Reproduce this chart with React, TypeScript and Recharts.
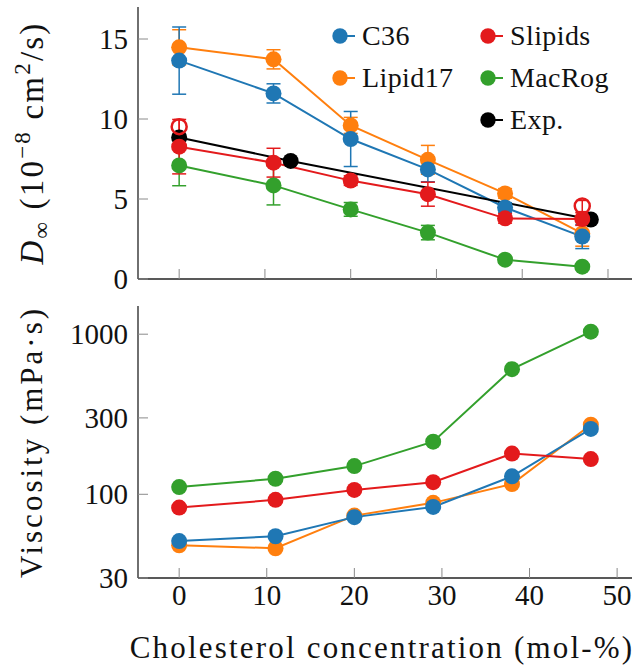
import React from 'react'
import { LineChart, Line, XAxis, YAxis, ErrorBar, Legend, Label } from 'recharts'

// cholesterol concentration (mol-%)
const conc = [0, 11, 20, 29, 38, 47]
const expConc = [0, 13, 48]
const altConc = [0, 47]

// diffusion coefficient D_inf (1e-8 cm^2/s)
const c36D = [13.65, 11.6, 8.75, 6.85, 4.47, 2.65]
const c36DErr = [2.1, 0.6, 1.72, 0.77, 0.3, 0.75]
const lipid17D = [14.48, 13.73, 9.6, 7.45, 5.35, 2.85]
const lipid17DErr = [1.1, 0.6, 0.5, 0.9, 0.3, 0.8]
const slipidsD = [8.27, 7.27, 6.15, 5.3, 3.79, 3.75]
const slipidsDErr = [1.7, 0.9, 0.3, 0.75, 0.3, 0.4]
const macRogD = [7.1, 5.85, 4.35, 2.9, 1.21, 0.77]
const macRogDErr = [1.27, 1.22, 0.43, 0.45, 0.2, 0.15]
const slipidsAltD = [9.52, 4.56]
const slipidsAltDErr = [0.45, 0.35]
const expD = [8.85, 7.38, 3.72]

// viscosity (mPa s)
const c36V = [51, 54.7, 72, 83.4, 129.5, 256]
const lipid17V = [48, 46, 73.6, 88.4, 116, 272]
const slipidsV = [82.6, 92.3, 106.5, 119, 179.5, 166]
const macRogV = [111, 125, 150, 213, 605, 1037]

const xTicks = [0, 10, 20, 30, 40, 50]
const dTicks = [0, 5, 10, 15]
const vTicks = [30, 100, 300, 1000]

const BLUE = '#1f77b4'
const ORANGE = '#ff7f0e'
const RED = '#e31a1c'
const GREEN = '#33a02c'
const BLACK = '#000000'

const FONT = '"Liberation Serif", "DejaVu Serif", serif'
const txt = { fontFamily: FONT }
const TICK = 10
const TICK_COLOR = '#8a8a8a'

const pts = (xs: number[], ys: number[], errs?: number[]) =>
  xs.map((x, i) => ({ x, y: ys[i], err: errs ? errs[i] : 0 }))

const XTick = ({ x, y, payload, side, showLabel }: any) => {
  const dir = side === 'bottom' ? -1 : 1
  return (
    <g>
      <line x1={x} x2={x} y1={y} y2={y + dir * TICK} stroke={TICK_COLOR} strokeWidth={1} />
      {showLabel && (
        <text x={x} y={y + 27} textAnchor="middle" fontSize={29} style={txt} fill="#111">
          {payload.value}
        </text>
      )}
    </g>
  )
}

const YTick = ({ x, y, payload, side }: any) => {
  const dir = side === 'left' ? 1 : -1
  return (
    <g>
      <line x1={x} x2={x + dir * TICK} y1={y} y2={y} stroke={TICK_COLOR} strokeWidth={1} />
      {side === 'left' && (
        <text x={x - 10} y={y + 10} textAnchor="end" fontSize={29} style={txt} fill="#111">
          {payload.value}
        </text>
      )}
    </g>
  )
}

const legendPos: Record<string, [number, number]> = {
  C36: [0, 0],
  Lipid17: [0, 1],
  Slipids: [1, 0],
  MacRog: [1, 1],
  'Exp.': [1, 2],
}

const renderLegend = ({ payload }: any) => (
  <svg width={310} height={130}>
    {(payload || [])
      .filter((e: any) => legendPos[e.value])
      .map((e: any) => {
        const [col, row] = legendPos[e.value]
        const cx = 20 + col * 148
        const cy = 26 + row * 42
        return (
          <g key={e.value}>
            <line x1={cx} x2={cx + 15} y1={cy} y2={cy} stroke={e.color} strokeWidth={2} />
            <circle cx={cx} cy={cy} r={7.7} fill={e.color} />
            <text x={cx + 22} y={cy + 9} fontSize={28} style={txt} fill="#111" letterSpacing={0.4}>
              {e.value}
            </text>
          </g>
        )
      })}
  </svg>
)

const dot = (c: string) => ({ r: 8, fill: c, stroke: 'none' })

const axisLine = { stroke: '#222', strokeWidth: 1.3 }

export default function App() {
  return (
    <div style={{ position: 'absolute', left: 0, top: 0, width: 641, height: 670, background: '#fff', fontFamily: FONT }}>
      <LineChart width={641} height={300} margin={{ top: 7, right: 9, bottom: 0, left: 0 }}>
        <XAxis xAxisId="b" type="number" dataKey="x" domain={[-4.8, 52.8]} ticks={xTicks} allowDataOverflow
          height={21} tickSize={0} tickMargin={0} axisLine={axisLine}
          tick={(p: any) => <XTick {...p} side="bottom" />} />
        <XAxis xAxisId="t" orientation="top" type="number" dataKey="x" domain={[-4.8, 52.8]} ticks={xTicks} allowDataOverflow
          height={0} tickSize={0} tickMargin={0} axisLine={axisLine}
          tick={(p: any) => <XTick {...p} side="top" />} />
        <YAxis yAxisId="l" type="number" domain={[0, 17]} ticks={dTicks} allowDataOverflow
          width={138} tickSize={0} tickMargin={0} axisLine={axisLine}
          tick={(p: any) => <YTick {...p} side="left" />}>
          <Label content={({ viewBox }: any) => {
            const cx = 32
            const cy = viewBox.y + viewBox.height / 2
            return (
              <text transform={`rotate(-90, ${cx}, ${cy})`} x={cx} y={cy + 11} textAnchor="middle"
                fontSize={33} style={txt} fill="#111" letterSpacing={2.2}>
                <tspan fontStyle="italic">D</tspan>
                <tspan fontSize={23} dy={6}>∞</tspan>
                <tspan dy={-6}> (10</tspan>
                <tspan fontSize={23} dy={-13}>−8</tspan>
                <tspan dy={13}> cm</tspan>
                <tspan fontSize={23} dy={-13}>2</tspan>
                <tspan dy={13}>/s)</tspan>
              </text>
            )
          }} />
        </YAxis>
        <YAxis yAxisId="r" orientation="right" type="number" domain={[0, 17]} ticks={dTicks} allowDataOverflow
          width={0} tickSize={0} tickMargin={0} axisLine={axisLine}
          tick={(p: any) => <YTick {...p} side="right" />} />
        <Legend layout="vertical" align="center" verticalAlign="middle" content={renderLegend}
          wrapperStyle={{ left: 320, top: 10, width: 310, height: 130 }} />

        <Line xAxisId="b" yAxisId="l" name="Lipid17" data={pts(conc, lipid17D, lipid17DErr)} dataKey="y"
          stroke={ORANGE} strokeWidth={2} dot={dot(ORANGE)} activeDot={false} isAnimationActive={false}>
          <ErrorBar dataKey="err" direction="y" width={7} stroke={ORANGE} strokeWidth={1.5} />
        </Line>
        <Line xAxisId="b" yAxisId="l" name="C36" data={pts(conc, c36D, c36DErr)} dataKey="y"
          stroke={BLUE} strokeWidth={2} dot={dot(BLUE)} activeDot={false} isAnimationActive={false}>
          <ErrorBar dataKey="err" direction="y" width={7} stroke={BLUE} strokeWidth={1.5} />
        </Line>
        <Line xAxisId="b" yAxisId="l" name="MacRog" data={pts(conc, macRogD, macRogDErr)} dataKey="y"
          stroke={GREEN} strokeWidth={2} dot={dot(GREEN)} activeDot={false} isAnimationActive={false}>
          <ErrorBar dataKey="err" direction="y" width={7} stroke={GREEN} strokeWidth={1.5} />
        </Line>
        <Line xAxisId="b" yAxisId="l" name="Exp." data={pts(expConc, expD)} dataKey="y"
          stroke={BLACK} strokeWidth={2} dot={dot(BLACK)} activeDot={false} isAnimationActive={false} />
        <Line xAxisId="b" yAxisId="l" name="Slipids" data={pts(conc, slipidsD, slipidsDErr)} dataKey="y"
          stroke={RED} strokeWidth={2} dot={dot(RED)} activeDot={false} isAnimationActive={false}>
          <ErrorBar dataKey="err" direction="y" width={7} stroke={RED} strokeWidth={1.5} />
        </Line>
        <Line xAxisId="b" yAxisId="l" name="Slipids (alt.)" legendType="none" data={pts(altConc, slipidsAltD, slipidsAltDErr)} dataKey="y"
          stroke="none" dot={{ r: 7.5, fill: 'none', stroke: RED, strokeWidth: 2.5 }} activeDot={false} isAnimationActive={false}>
          <ErrorBar dataKey="err" direction="y" width={5} stroke={RED} strokeWidth={1.5} />
        </Line>
      </LineChart>

      <div style={{ position: 'absolute', left: 0, top: 290 }}>
        <LineChart width={641} height={380} margin={{ top: 16, right: 9, bottom: 0, left: 0 }}>
          <XAxis xAxisId="b" type="number" dataKey="x" domain={[-4.7, 51.7]} ticks={xTicks} allowDataOverflow
            height={92} tickSize={0} tickMargin={0} axisLine={axisLine}
            tick={(p: any) => <XTick {...p} side="bottom" showLabel />}>
            <Label content={({ viewBox }: any) => (
              <text x={viewBox.x + viewBox.width / 2 - 3} y={viewBox.y + 80} textAnchor="middle"
                fontSize={31} style={txt} fill="#111" letterSpacing={2.2}>
                Cholesterol concentration (mol-%)
              </text>
            )} />
          </XAxis>
          <XAxis xAxisId="t" orientation="top" type="number" dataKey="x" domain={[-4.7, 51.7]} ticks={xTicks} allowDataOverflow
            height={0} tickSize={0} tickMargin={0} axisLine={axisLine}
            tick={(p: any) => <XTick {...p} side="top" />} />
          <YAxis yAxisId="l" type="number" scale="log" domain={[30, 1500]} ticks={vTicks} allowDataOverflow
            width={138} tickSize={0} tickMargin={0} axisLine={axisLine}
            tick={(p: any) => <YTick {...p} side="left" />}>
            <Label content={({ viewBox }: any) => {
              const cx = 32
              const cy = viewBox.y + viewBox.height / 2
              return (
                <text transform={`rotate(-90, ${cx}, ${cy})`} x={cx} y={cy + 10} textAnchor="middle"
                  fontSize={31} style={txt} fill="#111" letterSpacing={3}>
                  Viscosity (mPa·s)
                </text>
              )
            }} />
          </YAxis>
          <YAxis yAxisId="r" orientation="right" type="number" scale="log" domain={[30, 1500]} ticks={vTicks} allowDataOverflow
            width={0} tickSize={0} tickMargin={0} axisLine={axisLine}
            tick={(p: any) => <YTick {...p} side="right" />} />

          <Line xAxisId="b" yAxisId="l" name="Lipid17" data={pts(conc, lipid17V)} dataKey="y"
            stroke={ORANGE} strokeWidth={2} dot={dot(ORANGE)} activeDot={false} isAnimationActive={false} />
          <Line xAxisId="b" yAxisId="l" name="C36" data={pts(conc, c36V)} dataKey="y"
            stroke={BLUE} strokeWidth={2} dot={dot(BLUE)} activeDot={false} isAnimationActive={false} />
          <Line xAxisId="b" yAxisId="l" name="Slipids" data={pts(conc, slipidsV)} dataKey="y"
            stroke={RED} strokeWidth={2} dot={dot(RED)} activeDot={false} isAnimationActive={false} />
          <Line xAxisId="b" yAxisId="l" name="MacRog" data={pts(conc, macRogV)} dataKey="y"
            stroke={GREEN} strokeWidth={2} dot={dot(GREEN)} activeDot={false} isAnimationActive={false} />
        </LineChart>
      </div>
    </div>
  )
}
